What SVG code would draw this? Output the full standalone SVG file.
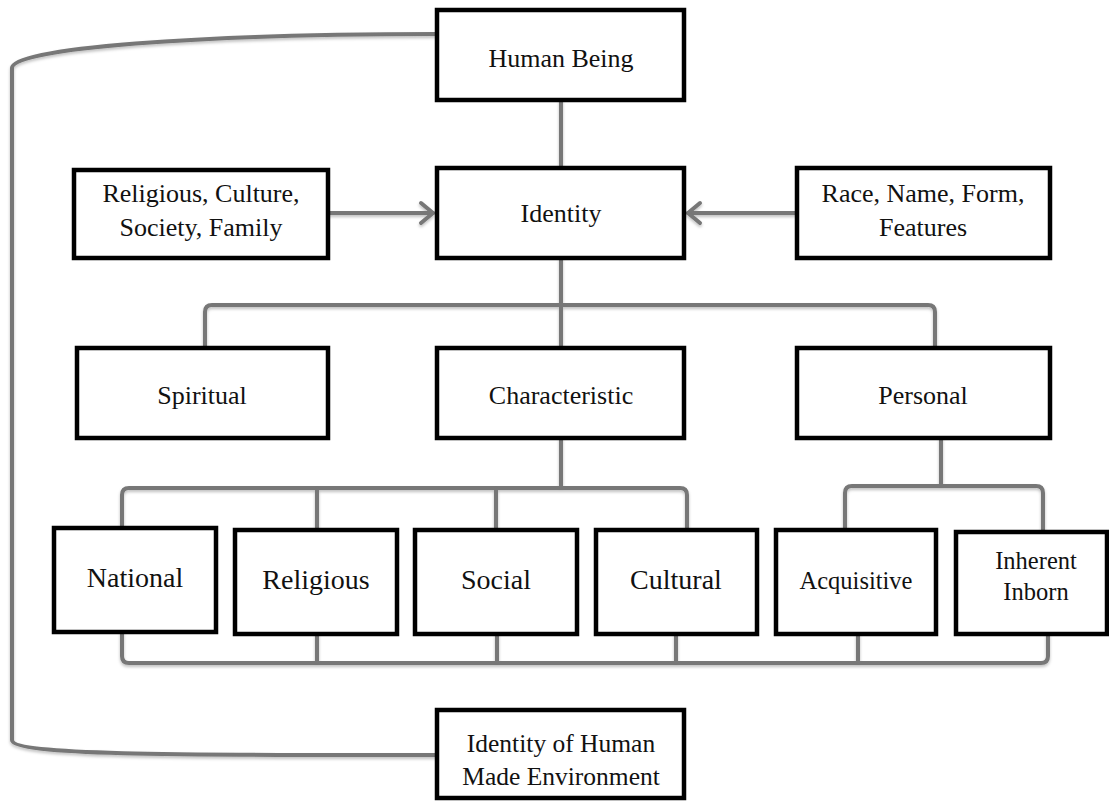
<svg xmlns="http://www.w3.org/2000/svg" width="1109" height="801" viewBox="0 0 1109 801">
  <defs>
    <filter id="soft" x="-5%" y="-5%" width="110%" height="110%">
      <feDropShadow dx="0" dy="2" stdDeviation="1.5" flood-color="#000000" flood-opacity="0.25"/>
    </filter>
  </defs>
  <style>
    .box { fill: #ffffff; stroke: #000000; stroke-width: 4.5; }
    .lbl { font-family: "Liberation Serif", "Times New Roman", serif; font-size: 26px; fill: #111111; text-anchor: middle; }
    .big { font-size: 28px; }
    .tms { font-size: 24.5px; }
    .env { font-size: 25.5px; }
    .wire { fill: none; stroke: #777777; stroke-width: 4; stroke-linecap: round; stroke-linejoin: round; }
  </style>

  <!-- connectors -->
  <g id="connectors" filter="url(#soft)">
    <!-- outer loop from Human Being round to the built environment -->
    <path class="wire" d="M437,34 C200,34 12,48 12,68 L12,740 C12,756 200,755 437,755"/>
    <!-- Human Being down to Identity -->
    <path class="wire" d="M561,100 L561,168"/>
    <!-- influences into Identity -->
    <path class="wire" d="M328,213 L433,213"/>
    <path class="wire" d="M421,203 L433,213 L421,223"/>
    <path class="wire" d="M797,213 L688,213"/>
    <path class="wire" d="M700,203 L688,213 L700,223"/>
    <!-- Identity branches -->
    <path class="wire" d="M561,258 L561,348"/>
    <path class="wire" d="M205,348 L205,312 Q205,305 212,305 L928,305 Q935,305 935,312 L935,348"/>
    <!-- Characteristic branches -->
    <path class="wire" d="M561,438 L561,488"/>
    <path class="wire" d="M122,528 L122,495 Q122,488 129,488 L680,488 Q687,488 687,495 L687,530"/>
    <path class="wire" d="M317,488 L317,530"/>
    <path class="wire" d="M496,488 L496,530"/>
    <!-- Personal branches -->
    <path class="wire" d="M941,438 L941,486"/>
    <path class="wire" d="M845,530 L845,493 Q845,486 852,486 L1036,486 Q1043,486 1043,493 L1043,532"/>
    <!-- common base line -->
    <path class="wire" d="M122,632 L122,656 Q122,663 129,663 L1041,663 Q1048,663 1048,656 L1048,634"/>
    <path class="wire" d="M317,634 L317,663"/>
    <path class="wire" d="M497,634 L497,663"/>
    <path class="wire" d="M676,634 L676,663"/>
    <path class="wire" d="M858,634 L858,663"/>
  </g>

  <g id="human-being">
    <rect class="box" x="437" y="10" width="247" height="90"/>
    <text class="lbl" x="561" y="67">Human Being</text>
  </g>

  <g id="influences-social">
    <rect class="box" x="74" y="170" width="254" height="88"/>
    <text class="lbl" x="201" y="202">Religious, Culture,</text>
    <text class="lbl" x="201" y="236">Society, Family</text>
  </g>

  <g id="identity">
    <rect class="box" x="437" y="168" width="247" height="90"/>
    <text class="lbl" x="561" y="222">Identity</text>
  </g>

  <g id="influences-physical">
    <rect class="box" x="797" y="168" width="253" height="90"/>
    <text class="lbl" x="923" y="202">Race, Name, Form,</text>
    <text class="lbl" x="923" y="236">Features</text>
  </g>

  <g id="spiritual">
    <rect class="box" x="77" y="348" width="251" height="90"/>
    <text class="lbl" x="202" y="404">Spiritual</text>
  </g>

  <g id="characteristic">
    <rect class="box" x="437" y="348" width="247" height="90"/>
    <text class="lbl" x="561" y="404">Characteristic</text>
  </g>

  <g id="personal">
    <rect class="box" x="797" y="348" width="253" height="90"/>
    <text class="lbl" x="923" y="404">Personal</text>
  </g>

  <g id="national">
    <rect class="box" x="54" y="528" width="162" height="104"/>
    <text class="lbl big" x="135" y="587">National</text>
  </g>

  <g id="religious">
    <rect class="box" x="235" y="530" width="162" height="104"/>
    <text class="lbl big" x="316" y="589">Religious</text>
  </g>

  <g id="social">
    <rect class="box" x="415" y="530" width="162" height="104"/>
    <text class="lbl big" x="496" y="589">Social</text>
  </g>

  <g id="cultural">
    <rect class="box" x="596" y="530" width="161" height="104"/>
    <text class="lbl big" x="676" y="589">Cultural</text>
  </g>

  <g id="acquisitive">
    <rect class="box" x="776" y="530" width="160" height="104"/>
    <text class="lbl tms" x="856" y="589">Acquisitive</text>
  </g>

  <g id="inherent">
    <rect class="box" x="956" y="532" width="151" height="102"/>
    <text class="lbl tms" x="1036" y="569">Inherent</text>
    <text class="lbl tms" x="1036" y="600">Inborn</text>
  </g>

  <g id="built-environment">
    <rect class="box" x="437" y="710" width="247" height="88"/>
    <text class="lbl env" x="561" y="752">Identity of Human</text>
    <text class="lbl env" x="561" y="785">Made Environment</text>
  </g>
</svg>
